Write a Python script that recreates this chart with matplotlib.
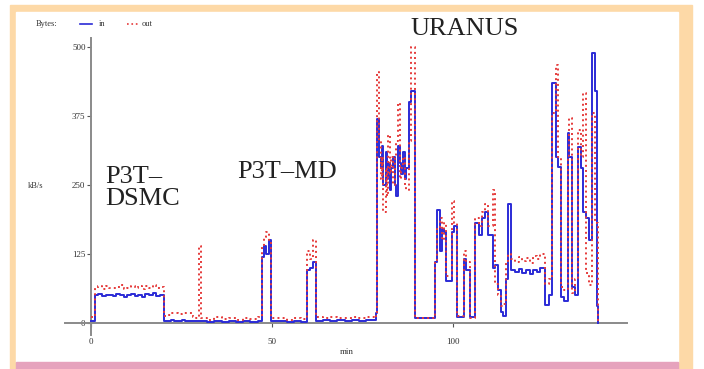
import matplotlib
matplotlib.use("Agg")
import matplotlib.pyplot as plt
from matplotlib.patches import Rectangle
from matplotlib.lines import Line2D

## data (minutes, kB/s), drawn as steps
t = [0, 1, 2, 3, 4, 5, 6, 7, 8, 9, 10, 11, 12, 13, 14, 15, 16, 17, 18, 19,
     20, 21, 22, 23, 24, 25, 26, 27, 28, 29, 29.8, 30.3, 32, 34, 36, 38, 40, 42, 44, 46,
     47.2, 47.8, 48.4, 49, 49.6, 52, 54, 56, 58, 59.5, 60.5, 61.3, 62.2,
     64, 66, 68, 70, 72, 74, 76, 78, 78.5,
     79, 79.6, 80, 80.4, 80.7, 81.3, 81.7, 82, 82.4, 82.7, 83.4, 83.8, 84.1, 84.8, 85.2,
     85.5, 86.2, 86.6, 87, 87.8, 88.4, 89.5,
     95, 95.6, 96.2, 96.8, 97.4, 97.9, 99.6, 100.2, 101, 102.8, 103.6, 104.7,
     106, 107, 108, 108.8, 109.6, 111, 111.5, 112.3, 113, 113.8, 114.5, 115.2,
     116, 117, 118, 119, 120, 121, 122, 123, 124, 125.4, 126.5,
     127.3, 128.3, 129, 129.6, 130.5, 131.5, 132, 132.6, 133.5, 134.5, 135.2, 135.8,
     136.5, 137.3, 138.3, 139.2, 139.7, 140]
bytes_in = [4, 50, 52, 49, 51, 50, 48, 52, 51, 47, 50, 53, 49, 51, 46, 52, 50, 54, 49, 51,
            4, 3, 5, 4, 3, 5, 4, 3, 4, 3, 4, 3, 2, 3, 2, 3, 2, 3, 2, 3,
            120, 140, 125, 150, 4, 3, 2, 3, 2, 95, 100, 110, 4,
            5, 4, 6, 4, 5, 4, 6, 5, 18,
            370, 300, 280, 320, 250, 310, 260, 290, 240, 280, 300, 250, 230, 320, 290,
            270, 310, 260, 280, 400, 420, 8,
            110, 205, 130, 170, 165, 75, 165, 175, 10, 115, 95, 10,
            180, 160, 190, 200, 160, 100, 105, 60, 20, 12, 80, 215,
            95, 92, 98, 90, 95, 88, 96, 92, 100, 33, 50,
            435, 300, 283, 47, 40, 344, 300, 65, 50, 319, 280, 200,
            190, 150, 489, 420, 30, 0]
bytes_out = [10, 64, 66, 62, 67, 64, 63, 65, 68, 62, 64, 66, 63, 67, 62, 66, 64, 68, 63, 65,
             12, 14, 17, 18, 16, 18, 17, 18, 10, 8, 140, 8, 6, 10, 7, 9, 6, 9, 7, 10,
             140, 155, 165, 150, 8, 8, 6, 9, 7, 130, 115, 150, 10,
             8, 10, 8, 9, 10, 8, 10, 9, 12,
             455, 330, 260, 300, 200, 280, 230, 340, 270, 300, 250, 300, 330, 398, 260,
             280, 300, 250, 240, 330, 500, 8,
             110, 170, 190, 150, 180, 85, 220, 180, 12, 130, 110, 8,
             190, 175, 200, 215, 175, 240, 70, 50, 30, 35, 110, 125,
             115, 110, 120, 112, 118, 108, 122, 115, 125, 70, 80,
             380, 467, 300, 65, 60, 300, 371, 54, 80, 350, 300, 417,
             90, 69, 380, 180, 180, 0]

yticks = [0, 125, 250, 375, 500]
xticks = [0, 50, 100]

W, H = 704, 369
fig = plt.figure(figsize=(W / 100, H / 100), dpi=100)
fig.patch.set_facecolor("white")

def box(x0, y0, x1, y1, color):
    # pixel box, y from top
    fig.patches.append(Rectangle((x0 / W, 1 - y1 / H), (x1 - x0) / W, (y1 - y0) / H,
                                 transform=fig.transFigure, color=color, zorder=-10))

box(10, 5, 692, 369, "#fdd9a7")
box(16, 12, 678, 362, "white")
box(16, 362, 678, 369, "#e6a3bd")

ax = fig.add_axes([0.0923, 0.0921, 0.7988, 0.805])
ax.set_zorder(5)
ax.set_facecolor("none")
ax.step(t, bytes_in, where="post", color="#2b2bd6", lw=1.4, zorder=3)
ax.step(t, bytes_out, where="post", color="#e53a3a", lw=1.4, ls=":", zorder=4)

ax.set_xlim(-7.2, 148)
ax.set_ylim(-22, 516)
for s in ["top", "right"]:
    ax.spines[s].set_visible(False)
ax.spines["left"].set_position(("data", 0))
ax.spines["bottom"].set_position(("data", 0))
for s in ["left", "bottom"]:
    ax.spines[s].set_color("#8a8a8a")
    ax.spines[s].set_linewidth(1.4)

serif = "Liberation Serif"
ax.set_yticks(yticks)
ax.set_xticks(xticks)
ax.tick_params(axis="both", length=3, width=0.8, color="#555555", pad=1,
               labelsize=6.5, labelfontfamily=serif, labelcolor="#333333")
ax.tick_params(axis="x", pad=8)

fig.text(28 / W, 1 - 186 / H, "kB/s", fontsize=6, family=serif, va="center", color="#333333")
fig.text(347 / W, 1 - 352 / H, "min", fontsize=6.5, family=serif, ha="center", va="center",
         color="#333333")

# legend
fig.text(36 / W, 1 - 24 / H, "Bytes:", fontsize=6, family=serif, va="center", color="#333333")
fig.lines.append(Line2D([80 / W, 92 / W], [1 - 24 / H] * 2, transform=fig.transFigure,
                        color="#2b2bd6", lw=1.2))
fig.text(99 / W, 1 - 24 / H, "in", fontsize=6, family=serif, va="center", color="#333333")
fig.lines.append(Line2D([127 / W, 139 / W], [1 - 24 / H] * 2, transform=fig.transFigure,
                        color="#e53a3a", lw=1.2, ls=":"))
fig.text(142 / W, 1 - 24 / H, "out", fontsize=6, family=serif, va="center", color="#333333")

# labels for the runs
fig.text(465 / W, 1 - 29 / H, "URANUS", fontsize=19, family=serif, ha="center",
         va="center", color="#222222")
fig.text(237 / W, 1 - 172 / H, "P3T\u2013MD", fontsize=19, family=serif,
         va="center", color="#222222")
fig.text(105 / W, 1 - 188 / H, "P3T\u2013\nDSMC", fontsize=19, family=serif,
         va="center", linespacing=1.0, color="#222222")

fig.savefig("out.png", dpi=100)
